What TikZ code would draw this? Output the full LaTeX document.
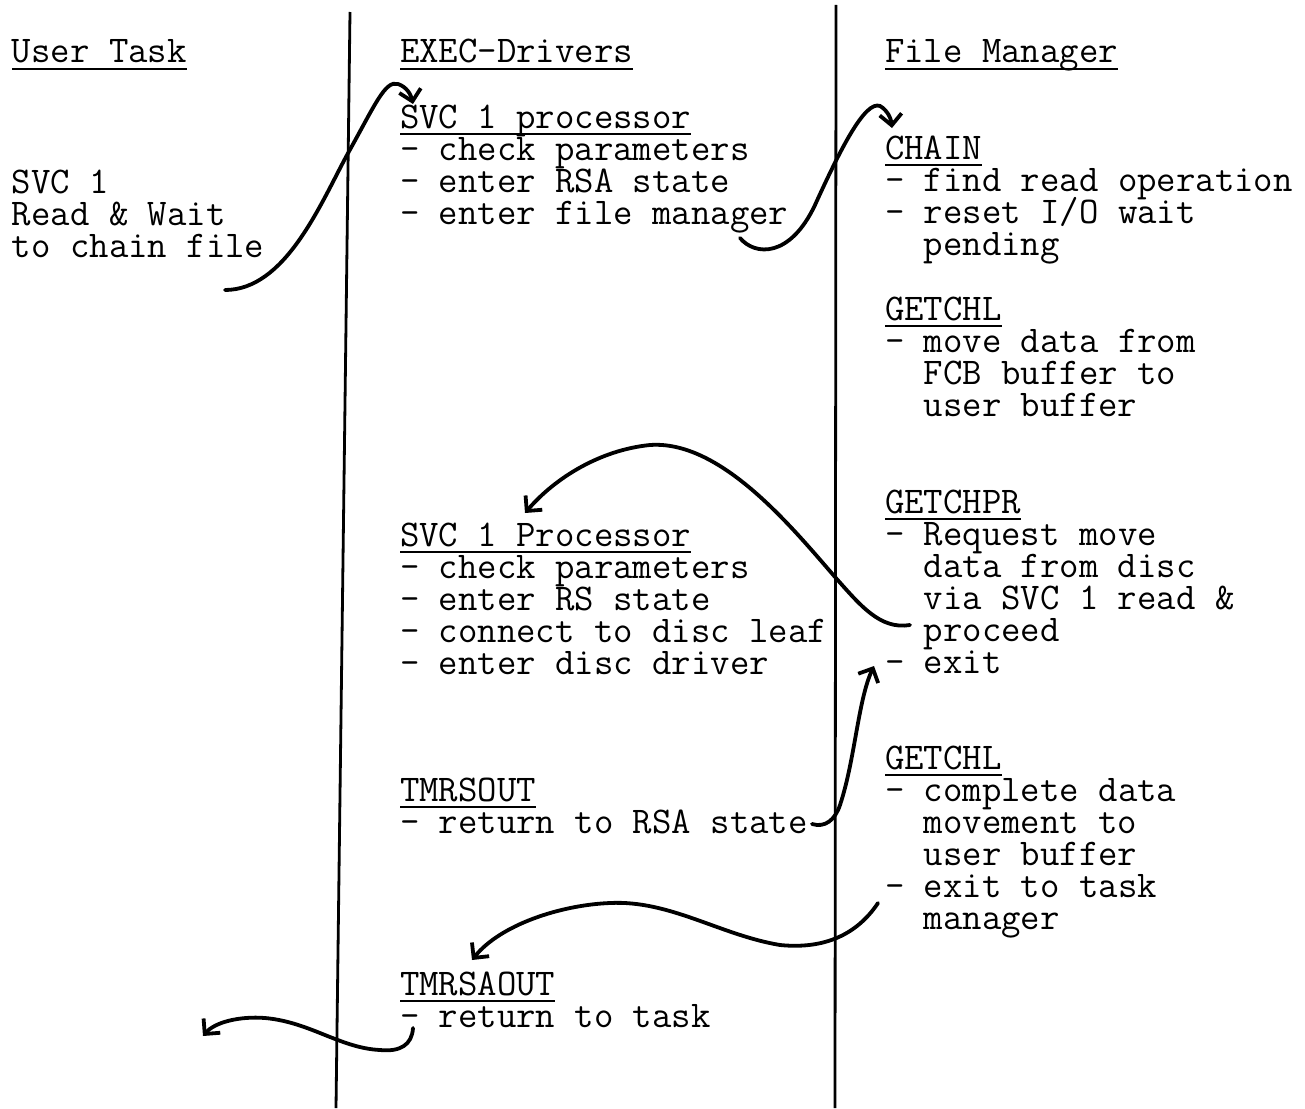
\documentclass[tikz,border=0pt]{standalone}
\usetikzlibrary{arrows.meta}
\begin{document}
\begin{tikzpicture}[x=1pt,y=-1pt,
  txt/.style={anchor=base west, inner sep=0pt, outer sep=0pt, text height=21pt, text depth=7pt, font=\fontsize{37.7}{32}\selectfont\ttfamily},
  ul/.style={line width=1.6pt},
  divider/.style={line width=2.8pt},
  arr/.style={line width=3.8pt, line cap=round, -{Straight Barb[length=11pt,width=22pt]}}]
\useasboundingbox (0,0) rectangle (1305,1108);

% column dividers
\draw[divider] (350,12) -- (336,1108);
\draw[divider] (836,5) -- (835,1108);

% headers
\node[txt] (hU) at (12,63) {User Task};
\node[txt] (hE) at (400,63) {EXEC-Drivers};
\node[txt] (hF) at (885,63) {File Manager};

% user task column
\node[txt] (u1) at (12,193) {SVC 1};
\node[txt] (u2) at (12,225) {Read \& Wait};
\node[txt] (u3) at (12,257) {to chain file};

% EXEC-Drivers column
\node[txt] (p1) at (400,128) {SVC 1 processor};
\node[txt] (p1a) at (400,160) {- check parameters};
\node[txt] (p1b) at (400,192) {- enter RSA state};
\node[txt] (p1c) at (400,224) {- enter file manager};

\node[txt] (p2) at (400,546) {SVC 1 Processor};
\node[txt] (p2a) at (400,578) {- check parameters};
\node[txt] (p2b) at (400,610) {- enter RS state};
\node[txt] (p2c) at (400,642) {- connect to disc leaf};
\node[txt] (p2d) at (400,674) {- enter disc driver};

\node[txt] (t1) at (400,801) {TMRSOUT};
\node[txt] (t1a) at (400,833) {- return to RSA state};

\node[txt] (t2) at (400,995) {TMRSAOUT};
\node[txt] (t2a) at (400,1027) {- return to task};

% File Manager column
\node[txt] (c1) at (885,159) {CHAIN};
\node[txt] (c1a) at (885,191) {- find read operation};
\node[txt] (c1b) at (885,223) {- reset I/O wait};
\node[txt] (c1c) at (885,255) {\ \ pending};

\node[txt] (g1) at (885,320) {GETCHL};
\node[txt] (g1a) at (885,352) {- move data from};
\node[txt] (g1b) at (885,384) {\ \ FCB buffer to};
\node[txt] (g1c) at (885,416) {\ \ user buffer};

\node[txt] (g2) at (885,513) {GETCHPR};
\node[txt] (g2a) at (885,545) {- Request move};
\node[txt] (g2b) at (885,577) {\ \ data from disc};
\node[txt] (g2c) at (885,609) {\ \ via SVC 1 read \&};
\node[txt] (g2d) at (885,641) {\ \ proceed};
\node[txt] (g2e) at (885,673) {- exit};

\node[txt] (g3) at (885,769) {GETCHL};
\node[txt] (g3a) at (885,801) {- complete data};
\node[txt] (g3b) at (885,833) {\ \ movement to};
\node[txt] (g3c) at (885,865) {\ \ user buffer};
\node[txt] (g3d) at (885,897) {- exit to task};
\node[txt] (g3e) at (885,929) {\ \ manager};

% underlines
\foreach \n in {hU,hE,hF,p1,p2,t1,t2,c1,g1,g2,g3}
  \draw[ul] ([yshift=-6pt]\n.base west) -- ([yshift=-6pt]\n.base east);

% connector end points
\coordinate (a1s) at (225,290);
\coordinate (a1e) at (413,104);
\coordinate (a2s) at (740,238);
\coordinate (a2e) at (892,128);
\coordinate (a3s) at (910,625);
\coordinate (a3e) at (525,513);
\coordinate (a4s) at (812,824);
\coordinate (a4e) at (874,666);
\coordinate (a5s) at (878,903);
\coordinate (a5e) at (472,960);
\coordinate (a6s) at (413,1028);
\coordinate (a6e) at (203,1036);

% connectors
\draw[arr] (a1s) .. controls (285,290) and (320,205) .. (347,155)
  .. controls (375,105) and (385,80) .. (398,84)
  .. controls (407,87) and (411,95) .. (a1e);
\draw[arr] (a2s) .. controls (755,256) and (790,258) .. (815,205)
  .. controls (840,150) and (865,100) .. (880,106)
  .. controls (887,110) and (891,118) .. (a2e);
\draw[arr] (a3s) .. controls (880,630) and (860,605) .. (835,577)
  .. controls (790,525) and (720,440) .. (650,445)
  .. controls (600,450) and (555,478) .. (a3e);
\draw[arr] (a4s) .. controls (825,828) and (835,820) .. (840,805)
  .. controls (855,760) and (858,700) .. (a4e);
\draw[arr] (a5s) .. controls (860,930) and (830,950) .. (780,945)
  .. controls (720,935) and (670,900) .. (610,903)
  .. controls (560,905) and (500,925) .. (a5e);
\draw[arr] (a6s) .. controls (412,1045) and (400,1052) .. (380,1050)
  .. controls (340,1048) and (310,1022) .. (265,1018)
  .. controls (240,1016) and (215,1022) .. (a6e);
\end{tikzpicture}
\end{document}
